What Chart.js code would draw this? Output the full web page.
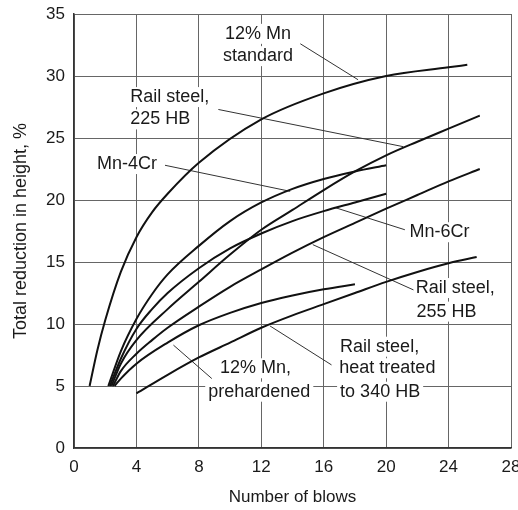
<!DOCTYPE html>
<html>
<head>
<meta charset="utf-8">
<script src="https://cdn.jsdelivr.net/npm/chart.js@4.4.0/dist/chart.umd.min.js"></script>
<style>
  html, body { margin: 0; padding: 0; background: #fff; }
</style>
</head>
<body>
<canvas id="myChart" width="518" height="510"></canvas>
<script>
// Number of blows (x) and total reduction in height, % (y) for each steel
const stdMnBlows = [1, 1.5, 2, 3, 4, 5, 6, 8, 12, 16, 20, 24, 25.2];
const stdMnRed = [5, 7.9, 10.3, 14.2, 17, 19, 20.5, 23, 26.5, 28.6, 30, 30.7, 30.9];

const rail225Blows = [2.4, 3, 4, 6, 8, 10, 12, 14, 16, 18, 20, 22, 24, 26];
const rail225Red = [5, 6.8, 8.7, 11.2, 13.4, 15.6, 17.6, 19.2, 20.8, 22.3, 23.6, 24.7, 25.75, 26.8];

const mn4CrBlows = [2.2, 3, 4, 5, 6, 8, 10, 12, 14, 16, 18, 20];
const mn4CrRed = [5, 7.8, 10.4, 12.4, 14, 16.3, 18.3, 19.8, 20.9, 21.7, 22.3, 22.8];

const mn6CrBlows = [2.3, 3, 4, 5, 6, 8, 10, 12, 14, 16, 18, 20];
const mn6CrRed = [5, 7.2, 9.6, 11.2, 12.5, 14.5, 16.1, 17.3, 18.3, 19.1, 19.8, 20.5];

const rail255Blows = [2.5, 3, 4, 5, 6, 8, 10, 12, 14, 16, 18, 20, 22, 24, 26];
const rail255Red = [5, 6.2, 7.6, 8.7, 9.7, 11.4, 13, 14.4, 15.75, 17, 18.15, 19.3, 20.4, 21.5, 22.5];

const prehardBlows = [2.6, 3, 4, 6, 8, 10, 12, 14, 16, 18];
const prehardRed = [5, 5.6, 6.8, 8.5, 9.9, 10.9, 11.7, 12.3, 12.8, 13.2];

const heatBlows = [4, 6, 8, 10, 12, 14, 16, 18, 20, 22, 24, 25.8];
const heatRed = [4.4, 5.9, 7.3, 8.5, 9.7, 10.7, 11.6, 12.5, 13.4, 14.2, 14.9, 15.4];

const xTicks = [0, 4, 8, 12, 16, 20, 24, 28];
const yTicks = [0, 5, 10, 15, 20, 25, 30, 35];

// Curve labels (text, blows, reduction) and leader lines
const noteText = [
    ['12% Mn', 9.68, 33.4],
    ['standard', 9.55, 31.6],
    ['Rail steel,', 3.6, 28.3],
    ['225 HB', 3.6, 26.5],
    ['Mn-4Cr', 1.47, 22.9],
    ['Mn-6Cr', 21.5, 17.4],
    ['Rail steel,', 21.9, 12.9],
    ['255 HB', 21.95, 11.0],
    ['Rail steel,', 17.05, 8.17],
    ['heat treated', 17.0, 6.43],
    ['to 340 HB', 17.05, 4.54],
    ['12% Mn,', 9.36, 6.43],
    ['prehardened', 8.6, 4.54]
];
const leaders = [
    [14.5, 32.6, 18.2, 29.7],
    [9.25, 27.3, 21.1, 24.3],
    [5.83, 22.8, 13.85, 20.7],
    [21.2, 17.6, 16.7, 19.4],
    [21.75, 12.75, 15.3, 16.4],
    [16.5, 6.7, 12.56, 9.84],
    [8.83, 5.6, 6.37, 8.3]
];

const toPoints = (xs, ys) => xs.map((v, i) => ({ x: v, y: ys[i] }));

const series = [
    ['12% Mn standard', stdMnBlows, stdMnRed],
    ['Rail steel, 225 HB', rail225Blows, rail225Red],
    ['Mn-4Cr', mn4CrBlows, mn4CrRed],
    ['Mn-6Cr', mn6CrBlows, mn6CrRed],
    ['Rail steel, 255 HB', rail255Blows, rail255Red],
    ['12% Mn, prehardened', prehardBlows, prehardRed],
    ['Rail steel, heat treated to 340 HB', heatBlows, heatRed]
];

const notesPlugin = {
    id: 'notes',
    beforeDatasetsDraw(chart) {
        const { ctx, scales: { x, y } } = chart;
        ctx.save();
        ctx.font = '18px "Liberation Sans", Arial, sans-serif';
        ctx.textBaseline = 'middle';
        ctx.textAlign = 'left';
        // white boxes behind the text hide the grid
        ctx.fillStyle = '#fff';
        noteText.forEach(n => {
            const w = ctx.measureText(n[0]).width;
            ctx.fillRect(x.getPixelForValue(n[1]) - 3, y.getPixelForValue(n[2]) - 10, w + 6, 20);
        });
        ctx.strokeStyle = '#333';
        ctx.lineWidth = 1;
        leaders.forEach(l => {
            ctx.beginPath();
            ctx.moveTo(x.getPixelForValue(l[0]), y.getPixelForValue(l[1]));
            ctx.lineTo(x.getPixelForValue(l[2]), y.getPixelForValue(l[3]));
            ctx.stroke();
        });
        ctx.fillStyle = '#1a1a1a';
        noteText.forEach(n => {
            ctx.fillText(n[0], x.getPixelForValue(n[1]), y.getPixelForValue(n[2]));
        });
        ctx.restore();
    }
};

const ctx = document.getElementById('myChart').getContext('2d');
const myChart = new Chart(ctx, {
    type: 'scatter',
    data: {
        datasets: series.map(s => ({
            label: s[0],
            data: toPoints(s[1], s[2]),
            showLine: true,
            borderColor: '#111',
            borderWidth: 2,
            pointRadius: 0,
            cubicInterpolationMode: 'monotone',
            fill: false
        }))
    },
    options: {
        responsive: false,
        animation: false,
        layout: { padding: { top: 14, right: 7, left: 0, bottom: 0 } },
        plugins: {
            legend: { display: false },
            tooltip: { enabled: false }
        },
        scales: {
            x: {
                type: 'linear',
                min: 0,
                max: 28,
                afterBuildTicks: (scale) => { scale.ticks = xTicks.map(v => ({ value: v })); },
                afterFit: (scale) => {
                    scale.height = 62;
                    scale.paddingLeft = 0;
                    scale.paddingRight = 0;
                },
                grid: { color: '#666', lineWidth: 1, drawTicks: false },
                border: { color: '#333', width: 1.5 },
                ticks: {
                    padding: 9,
                    color: '#1a1a1a',
                    font: { family: '"Liberation Sans Narrow", "Liberation Sans", Arial', size: 17 }
                },
                title: {
                    display: true,
                    text: 'Number of blows',
                    color: '#1a1a1a',
                    padding: { top: 0, bottom: 2 },
                    font: { family: '"Liberation Sans", Arial', size: 17 }
                }
            },
            y: {
                type: 'linear',
                min: 0,
                max: 35,
                afterBuildTicks: (scale) => { scale.ticks = yTicks.map(v => ({ value: v })); },
                afterFit: (scale) => {
                    scale.width = 74;
                    scale.paddingTop = 0;
                    scale.paddingBottom = 0;
                },
                grid: { color: '#666', lineWidth: 1, drawTicks: false },
                border: { color: '#333', width: 1.5 },
                ticks: {
                    padding: 9,
                    color: '#1a1a1a',
                    font: { family: '"Liberation Sans Narrow", "Liberation Sans", Arial', size: 17 }
                },
                title: {
                    display: true,
                    text: 'Total reduction in height, %',
                    color: '#1a1a1a',
                    padding: { top: 10, bottom: 0 },
                    font: { family: '"Liberation Sans", Arial', size: 18 }
                }
            }
        }
    },
    plugins: [notesPlugin]
});
</script>
</body>
</html>
